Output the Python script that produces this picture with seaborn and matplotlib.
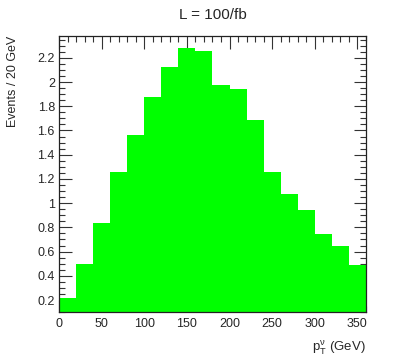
import numpy as np
import pandas as pd
import matplotlib
matplotlib.use('Agg')
import matplotlib.pyplot as plt
from matplotlib.ticker import MultipleLocator
import seaborn as sns

# histogram contents, 20 GeV bins from 0 to 360
bin_edges = list(range(0, 380, 20))
events = [0.215, 0.50, 0.84, 1.26, 1.56, 1.88, 2.12, 2.278, 2.255,
          1.972, 1.944, 1.683, 1.257, 1.073, 0.943, 0.748, 0.646, 0.487]
bin_centers = [e + 10 for e in bin_edges[:-1]]

df = pd.DataFrame({'pt': bin_centers, 'events': events})

sns.set_style('ticks')
plt.rcParams['font.family'] = ['Liberation Sans', 'DejaVu Sans']
plt.rcParams['mathtext.fontset'] = 'custom'
plt.rcParams['mathtext.rm'] = 'Liberation Sans'
plt.rcParams['mathtext.it'] = 'Liberation Sans'

fig = plt.figure(figsize=(4.07, 3.6), dpi=100)
ax = fig.add_axes([0.145, 0.133, 0.754, 0.767])

sns.histplot(data=df, x='pt', weights='events', bins=bin_edges, element='step',
             fill=True, color='#00ff00', alpha=1, linewidth=0, ax=ax)

ax.set_xlim(0, 360)
ax.set_ylim(0.1, 2.38)

ax.xaxis.set_major_locator(MultipleLocator(50))
ax.xaxis.set_minor_locator(MultipleLocator(10))
ax.yaxis.set_major_locator(MultipleLocator(0.2))
ax.yaxis.set_minor_locator(MultipleLocator(0.05))
ax.yaxis.set_major_formatter(plt.FuncFormatter(lambda v, p: f'{v:g}'))
ax.tick_params(which='both', direction='in', top=True, right=True,
               labelsize=9, color='#333333', width=0.8)
ax.tick_params(which='major', length=9)
ax.tick_params(which='minor', length=4.5)
ax.tick_params(axis='x', pad=4)
ax.tick_params(axis='y', pad=3)
for s in ax.spines.values():
    s.set_linewidth(0.9)
    s.set_color('#222222')

ax.set_xlabel(r'$\mathregular{p_{T}^{\nu}}$ (GeV)', fontsize=9.5, loc='right', labelpad=7)
ax.set_ylabel('Events / 20 GeV', fontsize=9, loc='top', labelpad=13)
ax.set_title('L = 100/fb', fontsize=11, pad=12)

fig.savefig('out.png', dpi=100)
